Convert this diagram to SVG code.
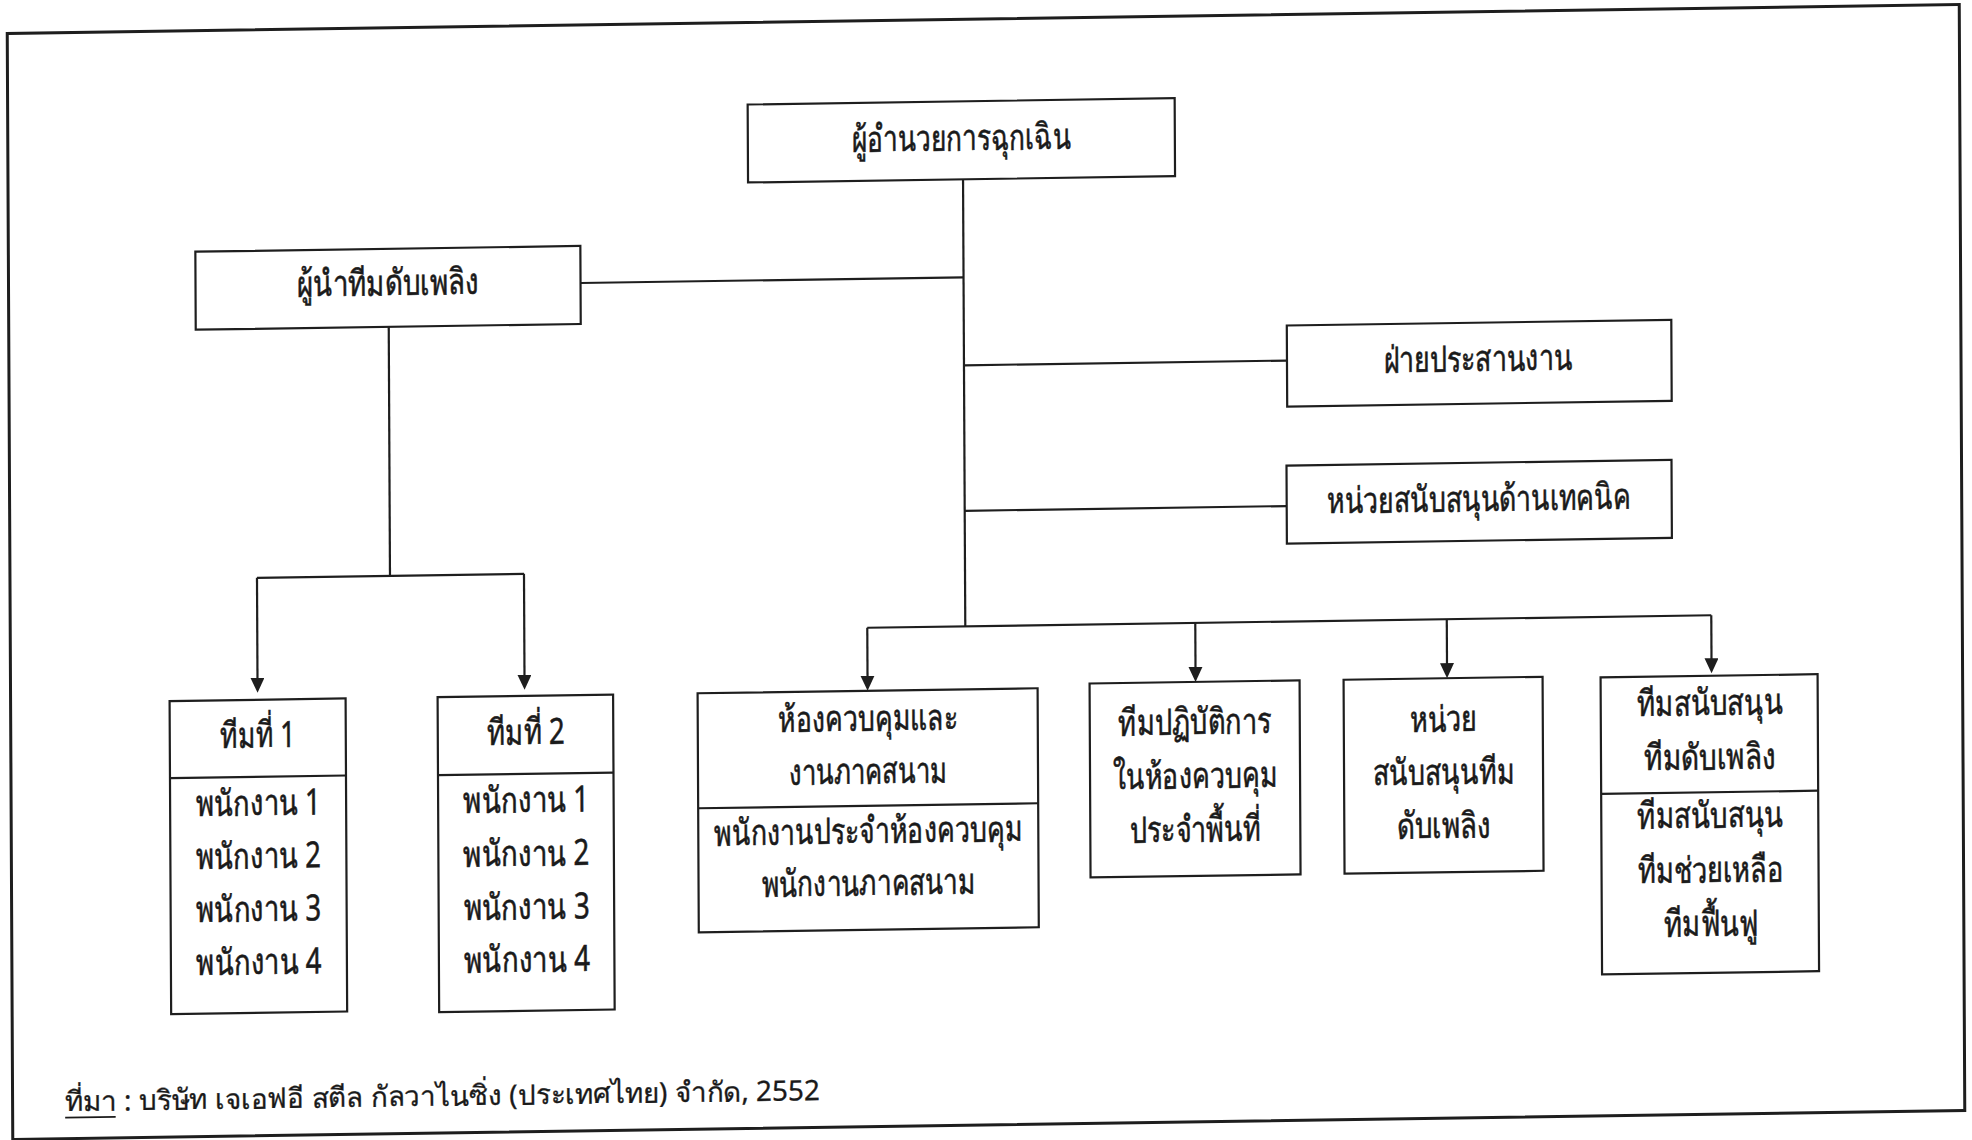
<svg xmlns="http://www.w3.org/2000/svg" width="1972" height="1140" viewBox="0 0 1972 1140">
<defs>
<style>
.box{fill:#fff;stroke:#1e1e1e;stroke-width:2.2}
.div{stroke:#1e1e1e;stroke-width:2.2}
.frame{fill:none;stroke:#1e1e1e;stroke-width:3}
.con{fill:none;stroke:#1e1e1e;stroke-width:2.2}
.t{font-family:"Noto Sans",sans-serif;font-size:36px;fill:#1a1a1a;stroke:#1a1a1a;stroke-width:0.6;text-anchor:middle}
.f{font-family:"Noto Sans",sans-serif;font-size:28px;fill:#1a1a1a;stroke:#1a1a1a;stroke-width:0.3}
</style>
<marker id="arr" markerUnits="userSpaceOnUse" markerWidth="16" markerHeight="15" refX="7" refY="7" orient="auto" viewBox="0 0 16 15">
<path d="M0,0 L15,7 L0,14 z" fill="#1e1e1e"/>
</marker>
</defs>
<rect width="1972" height="1140" fill="#fff"/>
<g transform="matrix(1,-0.0148,0.005,1,-2.85,14.59)">
<rect class="frame" x="10" y="19" width="1952" height="1106"/>
<g id="connectors">
<path class="con" d="M965,179 V626"/>
<path class="con" d="M582,277 H965"/>
<path class="con" d="M965,365 H1288"/>
<path class="con" d="M965,510.5 H1287"/>
<path class="con" d="M867,626 H1711"/>
<path class="con" d="M867,626 V681" marker-end="url(#arr)"/>
<path class="con" d="M1195,626 V677" marker-end="url(#arr)"/>
<path class="con" d="M1446.5,626 V677" marker-end="url(#arr)"/>
<path class="con" d="M1711,626 V676" marker-end="url(#arr)"/>
<path class="con" d="M390,318 V567"/>
<path class="con" d="M257,567 H524"/>
<path class="con" d="M257,567 V674" marker-end="url(#arr)"/>
<path class="con" d="M524,567 V675" marker-end="url(#arr)"/>
</g>
<g id="root">
<rect class="box" x="750" y="101" width="427" height="78"/>
<text class="t" x="963.5" y="150" textLength="219" lengthAdjust="spacingAndGlyphs">ผู้อำนวยการฉุกเฉิน</text>
</g>
<g id="fire-leader">
<rect class="box" x="197" y="240" width="385" height="78"/>
<text class="t" x="389.5" y="286.5" textLength="182" lengthAdjust="spacingAndGlyphs">ผู้นำทีมดับเพลิง</text>
</g>
<g id="coordination">
<rect class="box" x="1288" y="330" width="384.5" height="81"/>
<text class="t" x="1479" y="378.5" textLength="189" lengthAdjust="spacingAndGlyphs">ฝ่ายประสานงาน</text>
</g>
<g id="tech-support">
<rect class="box" x="1287" y="470" width="385" height="78"/>
<text class="t" x="1479" y="518.5" textLength="304" lengthAdjust="spacingAndGlyphs">หน่วยสนับสนุนด้านเทคนิค</text>
</g>
<g id="team1">
<rect class="box" x="169" y="689" width="176" height="313"/>
<line class="div" x1="169" y1="766" x2="345" y2="766"/>
<text class="t" x="257" y="736.5" textLength="75" lengthAdjust="spacingAndGlyphs">ทีมที่ 1</text>
<text class="t" x="257" y="804.5" textLength="125" lengthAdjust="spacingAndGlyphs">พนักงาน 1</text>
<text class="t" x="257" y="857.5" textLength="125" lengthAdjust="spacingAndGlyphs">พนักงาน 2</text>
<text class="t" x="257" y="910.5" textLength="125" lengthAdjust="spacingAndGlyphs">พนักงาน 3</text>
<text class="t" x="257" y="963.5" textLength="125" lengthAdjust="spacingAndGlyphs">พนักงาน 4</text>
</g>
<g id="team2">
<rect class="box" x="437" y="689" width="175.5" height="315"/>
<line class="div" x1="437" y1="767" x2="612.5" y2="767"/>
<text class="t" x="525" y="737.5" textLength="78" lengthAdjust="spacingAndGlyphs">ทีมที่ 2</text>
<text class="t" x="525" y="805.5" textLength="126" lengthAdjust="spacingAndGlyphs">พนักงาน 1</text>
<text class="t" x="525" y="859" textLength="126" lengthAdjust="spacingAndGlyphs">พนักงาน 2</text>
<text class="t" x="525" y="912.5" textLength="126" lengthAdjust="spacingAndGlyphs">พนักงาน 3</text>
<text class="t" x="525" y="965" textLength="126" lengthAdjust="spacingAndGlyphs">พนักงาน 4</text>
</g>
<g id="control-room">
<rect class="box" x="697" y="689" width="340" height="239"/>
<line class="div" x1="697" y1="804" x2="1037" y2="804"/>
<text class="t" x="867" y="729" textLength="179.5" lengthAdjust="spacingAndGlyphs">ห้องควบคุมและ</text>
<text class="t" x="867" y="781.8" textLength="158.7" lengthAdjust="spacingAndGlyphs">งานภาคสนาม</text>
<text class="t" x="867" y="841.5" textLength="308" lengthAdjust="spacingAndGlyphs">พนักงานประจำห้องควบคุม</text>
<text class="t" x="867" y="893.5" textLength="214" lengthAdjust="spacingAndGlyphs">พนักงานภาคสนาม</text>
</g>
<g id="ops-team">
<rect class="box" x="1089" y="685" width="210" height="194"/>
<text class="t" x="1194" y="737.5" textLength="153" lengthAdjust="spacingAndGlyphs">ทีมปฏิบัติการ</text>
<text class="t" x="1194" y="791.2" textLength="165" lengthAdjust="spacingAndGlyphs">ในห้องควบคุม</text>
<text class="t" x="1194" y="844.8" textLength="131" lengthAdjust="spacingAndGlyphs">ประจำพื้นที่</text>
</g>
<g id="fire-support-unit">
<rect class="box" x="1343" y="685" width="199" height="194"/>
<text class="t" x="1442.5" y="738.3" textLength="67.6" lengthAdjust="spacingAndGlyphs">หน่วย</text>
<text class="t" x="1442.5" y="791.2" textLength="142" lengthAdjust="spacingAndGlyphs">สนับสนุนทีม</text>
<text class="t" x="1442.5" y="844.8" textLength="94" lengthAdjust="spacingAndGlyphs">ดับเพลิง</text>
</g>
<g id="support-teams">
<rect class="box" x="1600" y="686.5" width="217" height="297"/>
<line class="div" x1="1600" y1="803" x2="1817" y2="803"/>
<text class="t" x="1709" y="725.9" textLength="146" lengthAdjust="spacingAndGlyphs">ทีมสนับสนุน</text>
<text class="t" x="1709" y="780.2" textLength="132" lengthAdjust="spacingAndGlyphs">ทีมดับเพลิง</text>
<text class="t" x="1709" y="838.3" textLength="146" lengthAdjust="spacingAndGlyphs">ทีมสนับสนุน</text>
<text class="t" x="1709" y="893.1" textLength="146" lengthAdjust="spacingAndGlyphs">ทีมช่วยเหลือ</text>
<text class="t" x="1709" y="946.7" textLength="94" lengthAdjust="spacingAndGlyphs">ทีมฟื้นฟู</text>
</g>
<g id="source">
<text class="f" x="62.3" y="1097.6" textLength="755" lengthAdjust="spacingAndGlyphs">ที่มา : บริษัท เจเอฟอี สตีล กัลวาไนซิ่ง (ประเทศไทย) จำกัด, 2552</text>
<line x1="62.5" y1="1104" x2="113" y2="1104" stroke="#1a1a1a" stroke-width="1.8"/>
</g>
</g>
</svg>
